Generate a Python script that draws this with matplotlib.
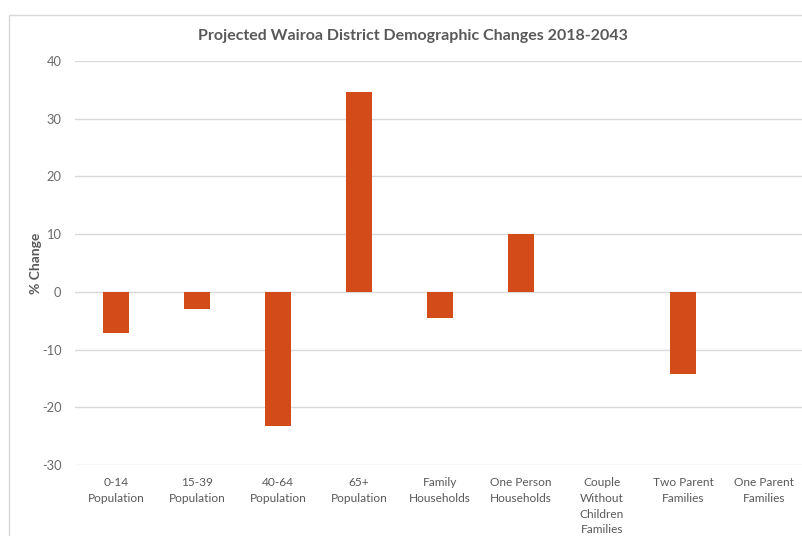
import matplotlib
matplotlib.use('Agg')
import matplotlib.pyplot as plt
from matplotlib.patches import Rectangle
import numpy as np

# Projected % change in Wairoa District demographics
categories = ['0-14\nPopulation', '15-39\nPopulation', '40-64\nPopulation',
              '65+\nPopulation', 'Family\nHouseholds', 'One Person\nHouseholds',
              'Couple\nWithout\nChildren\nFamilies', 'Two Parent\nFamilies',
              'One Parent\nFamilies']
changes = [-7.1, -2.9, -23.2, 34.7, -4.5, 10.0, 0.0, -14.2, 0.0]
yticks = [-30, -20, -10, 0, 10, 20, 30, 40]

plt.rcParams['font.family'] = ['Lato', 'DejaVu Sans']
plt.rcParams['axes.unicode_minus'] = False
textcol = '#595959'
barcol = '#D24B18'

fig = plt.figure(figsize=(8.03, 5.36), dpi=100)
W, H = 803, 536
# plot area in pixels: x 75.5..804.5, y 61..465
ax = fig.add_axes([75.5/W, 1 - 465/H, 729/W, (465 - 61)/H])

x = np.arange(len(categories))
ax.bar(x, changes, width=0.31, color=barcol, zorder=3)

ax.set_ylim(-30, 40)
ax.set_yticks(yticks)
ax.set_xlim(-0.5, 8.5)
ax.set_xticks(x)
ax.set_xticklabels(categories, fontsize=8.6, color=textcol, linespacing=1.5)
ax.tick_params(axis='y', labelsize=9.3, labelcolor='#6a6a6a', length=0, pad=10)
ax.tick_params(axis='x', length=0, pad=9)
ax.grid(axis='y', color='#D9D9D9', linewidth=1, zorder=0)
for s in ax.spines.values():
    s.set_visible(False)

ax.set_ylabel('% Change', fontsize=10, fontweight='bold', color=textcol)
ax.yaxis.set_label_coords((42 - 75.5)/729, 0.5)

fig.text(413/W, 1 - 36/H, 'Projected Wairoa District Demographic Changes 2018-2043',
         ha='center', va='center', fontsize=11.5, fontweight='bold', color=textcol)

# chart frame
fig.patches.append(Rectangle((9/W, -0.1), 1.2, 1 - 15/H + 0.1, transform=fig.transFigure,
                             fill=False, edgecolor='#D9D9D9', linewidth=1))

fig.savefig('out.png', dpi=100)
